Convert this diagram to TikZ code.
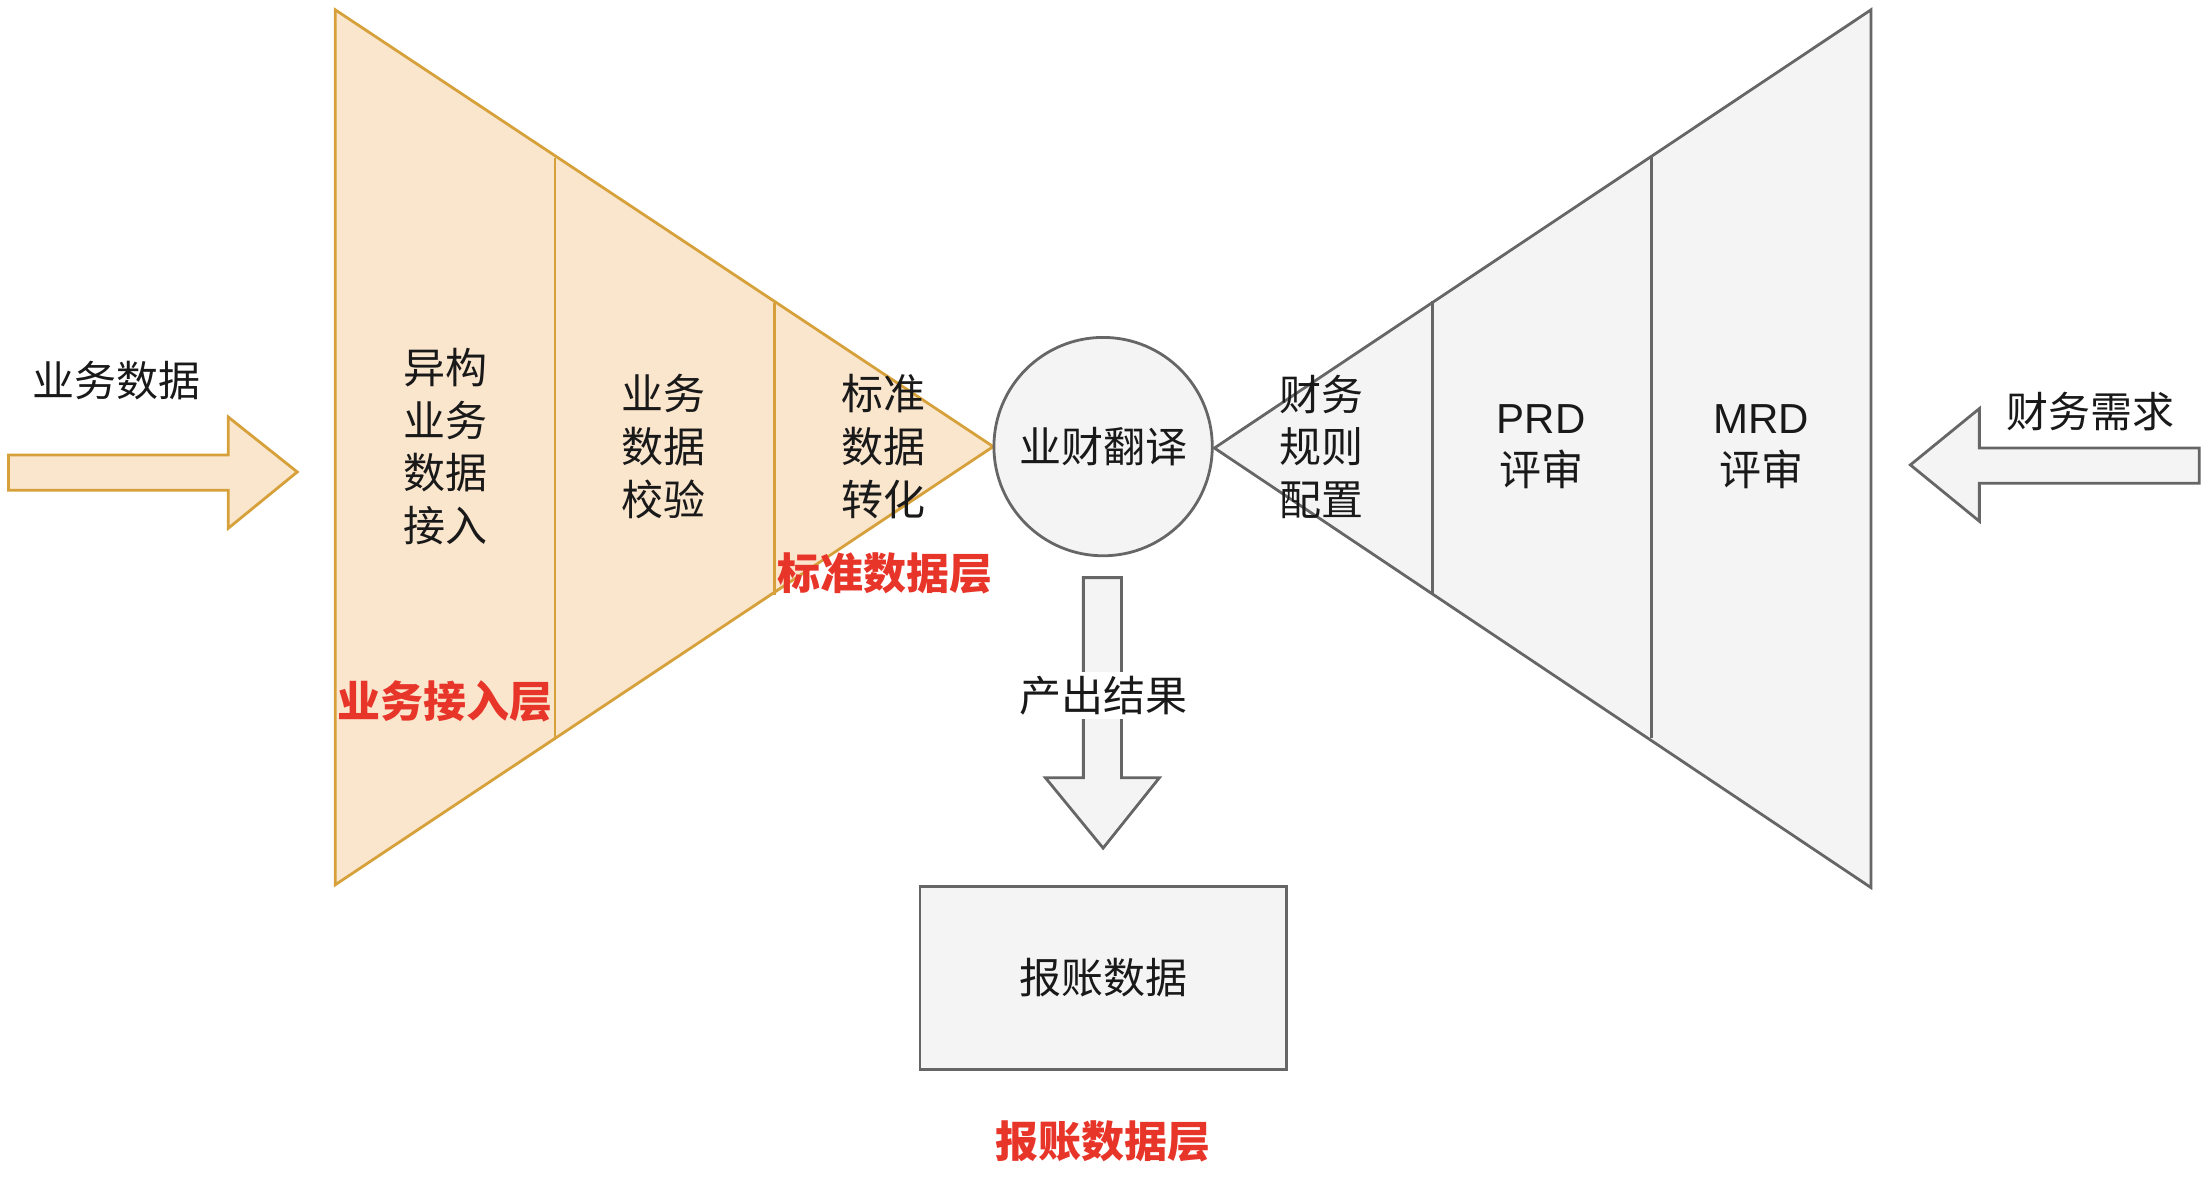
\documentclass[tikz,border=0pt]{standalone}
\usepackage{fontspec}
\newfontfamily\cjk{Noto Sans CJK SC}
\newfontfamily\lat{Liberation Sans}
\definecolor{orfill}{HTML}{FAE5CD}
\definecolor{orline}{HTML}{D6A13A}
\definecolor{grfill}{HTML}{F4F4F4}
\definecolor{grline}{HTML}{666666}
\definecolor{redtxt}{HTML}{E8352A}
\tikzset{
  orshape/.style={fill=orfill,draw=orline,line width=1.4pt,line join=miter},
  grshape/.style={fill=grfill,draw=grline,line width=1.4pt,line join=miter},
  orsep/.style={draw=orline,line width=1.4pt},
  grsep/.style={draw=grline,line width=1.4pt},
  lbl/.style={font=\cjk\fontsize{21}{26.3}\selectfont,align=center,inner sep=0pt,text=black!90},
  redlbl/.style={font=\cjk\bfseries\fontsize{21.5}{26}\selectfont,text=redtxt,inner sep=0pt},
}
\begin{document}
\begin{tikzpicture}[x=0.7044pt,y=-0.7044pt]
\useasboundingbox (0,0) rectangle (1568,845);
% left funnel
\path[orshape] (238,7) -- (705,317) -- (238,628) -- cycle;
\draw[orsep] (394,112) -- (394,525);
\draw[orsep] (550,215) -- (550,422);
% right funnel
\path[grshape] (1328,7) -- (862,318) -- (1328,630) -- cycle;
\draw[grsep] (1017,214) -- (1017,421);
\draw[grsep] (1172,111) -- (1172,524);
% circle
\node[circle,grshape,minimum size=155*0.7044pt,inner sep=0pt,lbl] (trans) at (783,317) {业财翻译};
% left arrow
\path[orshape] (6,323) -- (162,323) -- (162,296) -- (211,335) -- (162,375) -- (162,348) -- (6,348) -- cycle;
\node[lbl] (bizdata) at (83,270) {业务数据};
% right arrow
\path[grshape] (1561,318) -- (1405,318) -- (1405,290) -- (1356,330) -- (1405,370) -- (1405,343) -- (1561,343) -- cycle;
\node[lbl] (finreq) at (1484,292) {财务需求};
% down arrow
\path[grshape] (769,410) -- (796,410) -- (796,552) -- (823,552) -- (783,602) -- (742,552) -- (769,552) -- cycle;
\node[lbl,fill=white,inner sep=2pt] (output) at (783,494) {产出结果};
% report box
\node[draw=grline,fill=grfill,line width=1.4pt,minimum width=260*0.7044pt,minimum height=130*0.7044pt,lbl] (report) at (783,694) {报账数据};
% texts in funnels
\node[lbl] (t1) at (316,317) {异构\\业务\\数据\\接入};
\node[lbl] (t2) at (471,317) {业务\\数据\\校验};
\node[lbl] (t3) at (627,317) {标准\\数据\\转化};
\node[lbl] (t4) at (938,317) {财务\\规则\\配置};
\node[lbl] (t5) at (1094,317) {{\lat PRD}\\评审};
\node[lbl] (t6) at (1250,317) {{\lat MRD}\\评审};
% red layer labels
\node[redlbl] (l1) at (316,498) {业务接入层};
\node[redlbl] (l2) at (628,407) {标准数据层};
\node[redlbl] (l3) at (783,810) {报账数据层};
\end{tikzpicture}
\end{document}
